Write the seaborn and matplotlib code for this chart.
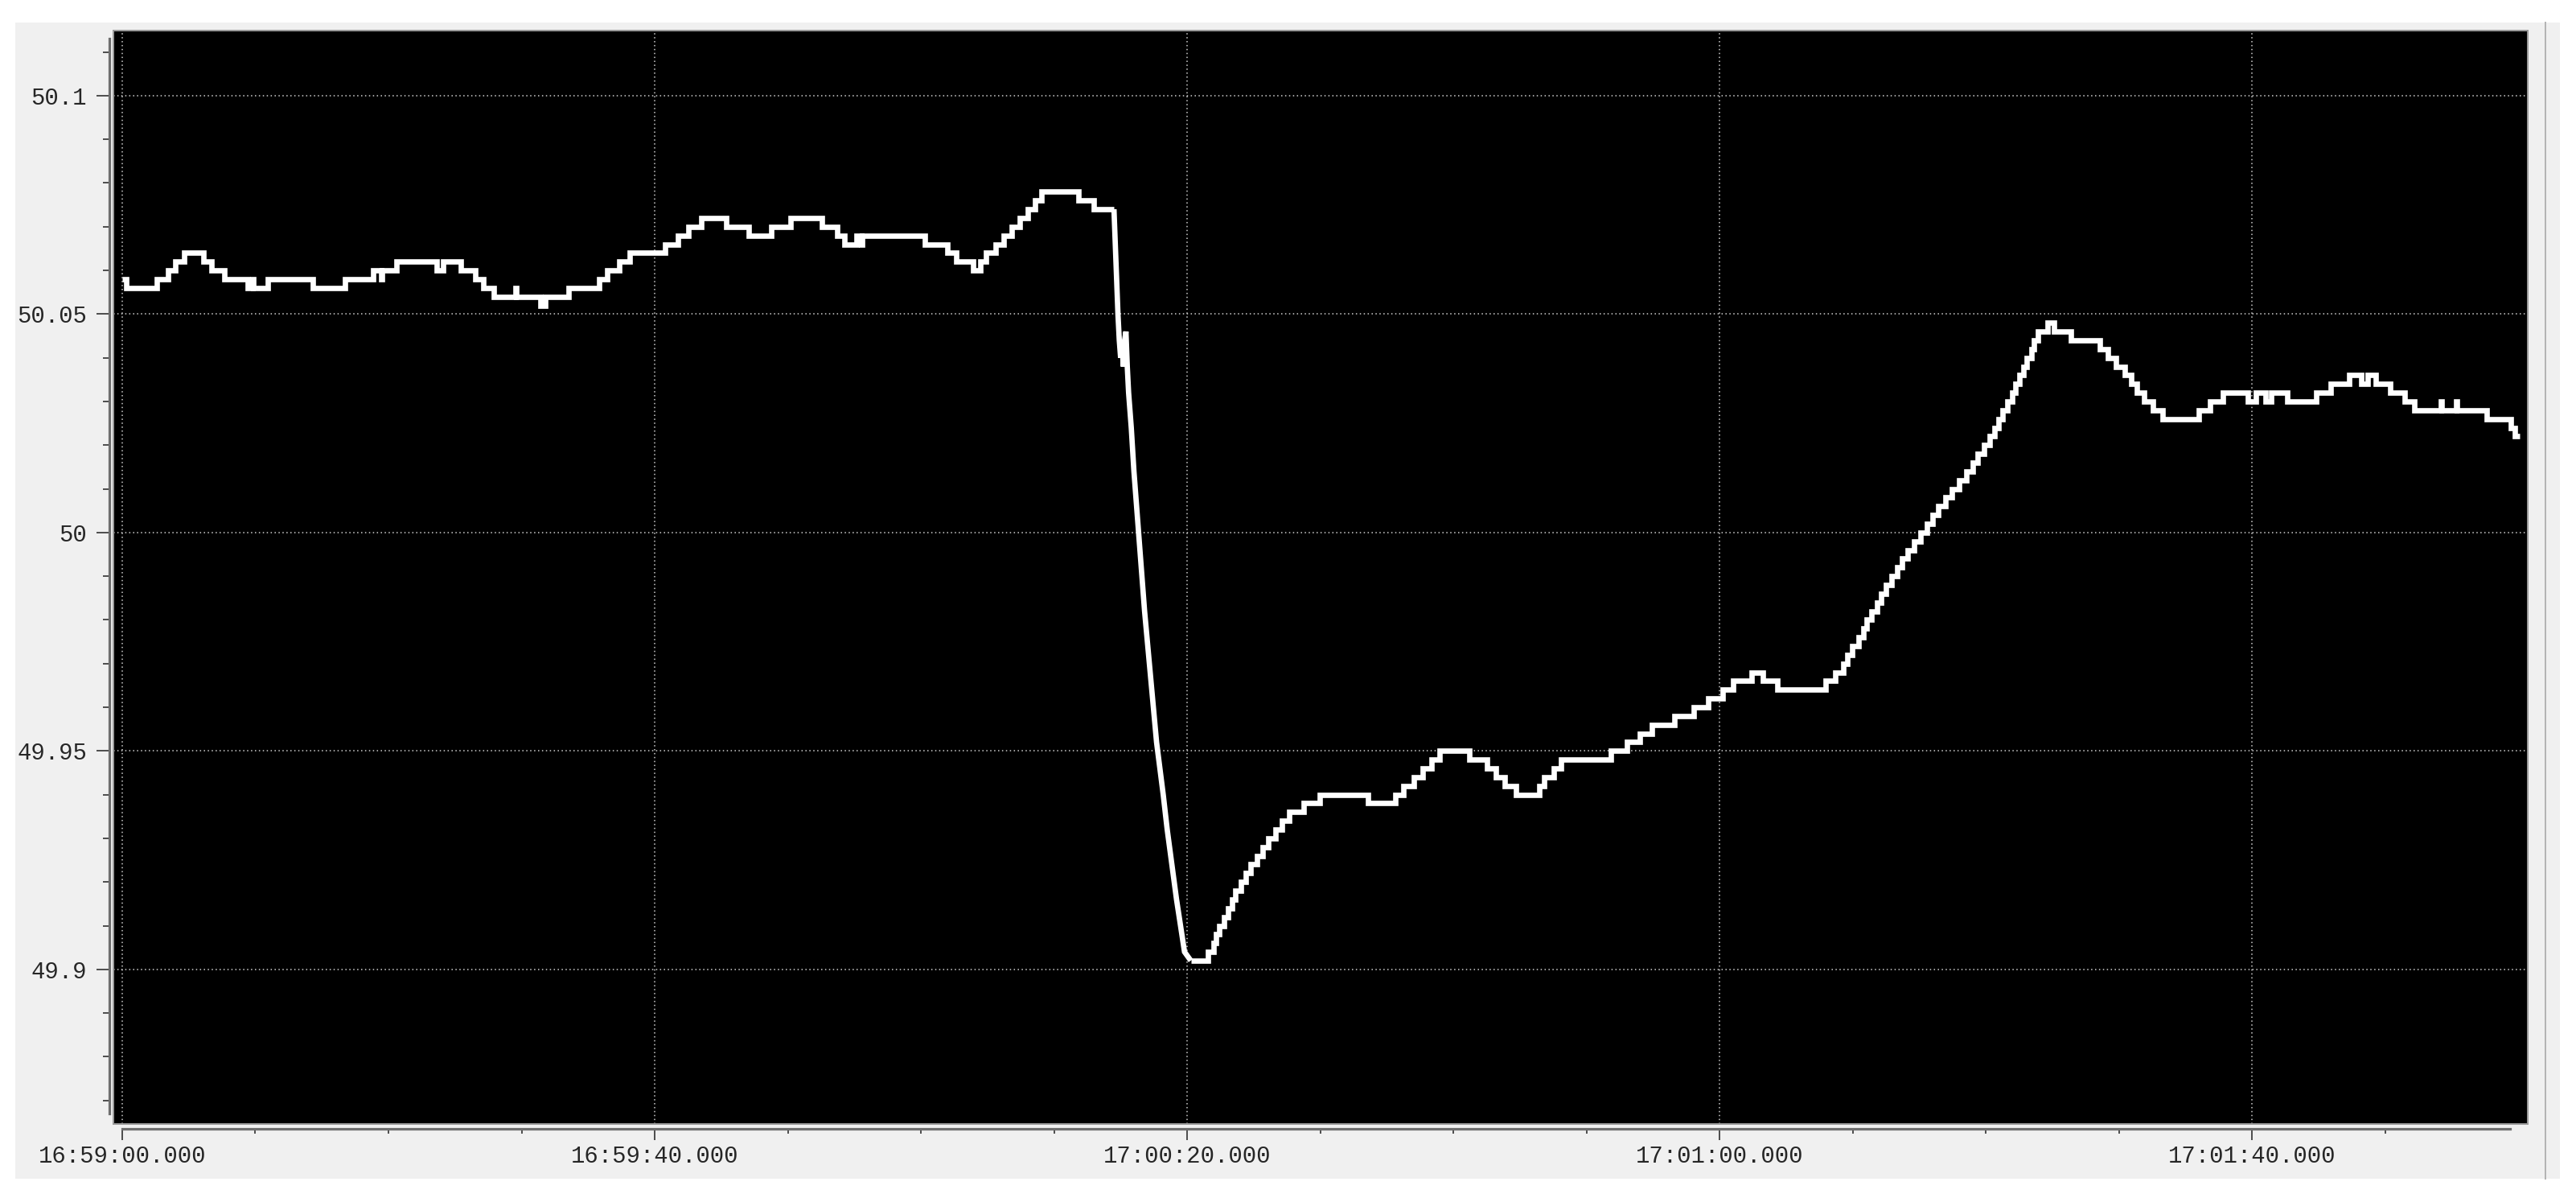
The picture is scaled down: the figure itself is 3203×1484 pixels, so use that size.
import numpy as np
import pandas as pd
import matplotlib
matplotlib.use("Agg")
import matplotlib.pyplot as plt
import seaborn as sns
from matplotlib.patches import Rectangle
from matplotlib.lines import Line2D
from matplotlib.ticker import MultipleLocator, FixedLocator

# ---------------- data (time in seconds after 16:59:00, frequency in Hz) ----------------
pre_t = [0.0, 0.3, 2.62, 3.46, 4.0, 4.65, 6.13, 6.73, 7.68, 9.43,
         9.79, 9.85, 10.93, 14.33, 16.71, 18.86, 19.46, 19.52, 20.59, 23.64,
         24.12, 25.43, 26.51, 27.11, 27.89, 29.57, 29.63, 31.4, 31.8, 33.56,
         35.83, 36.45, 37.36, 38.15, 40.77, 41.77, 42.55, 43.52, 45.36, 47.06,
         48.76, 50.21, 52.56, 53.74, 54.27, 55.18, 55.5, 55.56, 60.3, 62.0,
         62.65, 63.9, 64.45, 64.9, 65.6, 66.2, 66.8, 67.4, 68.0, 68.6,
         69.07, 71.82, 73.0, 74.5]
pre_f = [50.058, 50.056, 50.058, 50.060, 50.062, 50.064, 50.062, 50.060, 50.058, 50.056,
         50.058, 50.056, 50.058, 50.056, 50.058, 50.060, 50.058, 50.060, 50.062, 50.060,
         50.062, 50.060, 50.058, 50.056, 50.054, 50.056, 50.054, 50.052, 50.054, 50.056,
         50.058, 50.060, 50.062, 50.064, 50.066, 50.068, 50.070, 50.072, 50.070, 50.068,
         50.070, 50.072, 50.070, 50.068, 50.066, 50.068, 50.066, 50.068, 50.066, 50.064,
         50.062, 50.060, 50.062, 50.064, 50.066, 50.068, 50.070, 50.072, 50.074, 50.076,
         50.078, 50.076, 50.074, 50.074]

drop_t = [74.5, 74.6, 74.7, 74.8, 74.9, 75.0, 75.1, 75.2, 75.3, 75.4,
          75.5, 75.6, 75.8, 76.0, 76.3, 76.55, 76.8, 77.1, 77.4, 77.7,
          77.95, 78.2, 78.5, 78.85, 79.2, 79.5, 79.8, 80.27]
drop_f = [50.074, 50.066, 50.058, 50.050, 50.044, 50.040, 50.044, 50.038, 50.044, 50.046,
          50.038, 50.032, 50.024, 50.014, 50.002, 49.992, 49.982, 49.972, 49.962, 49.952,
          49.946, 49.940, 49.932, 49.924, 49.916, 49.910, 49.904, 49.902]

post_t = [80.27, 81.54, 81.97, 82.16, 82.43, 82.78, 83.05, 83.37, 83.64, 84.05,
          84.4, 84.77, 85.26, 85.66, 86.07, 86.61, 87.09, 87.69, 88.77, 89.98,
          93.57, 95.65, 96.27, 97.0, 97.72, 98.34, 98.96, 101.18, 102.52, 103.2,
          103.87, 104.68, 106.44, 106.84, 107.52, 108.06, 111.83, 113.05, 113.99, 114.93,
          116.6, 118.07, 119.13, 120.2, 121.04, 122.42, 123.26, 124.32, 127.93, 128.67,
          129.30, 129.62, 129.98, 130.41, 130.79, 131.04, 131.42, 131.81, 132.10, 132.48,
          132.91, 133.33, 133.71, 134.14, 134.60, 135.07, 135.56, 135.98, 136.41, 136.94,
          137.47, 138.0, 138.52, 139.01, 139.37, 139.86, 140.28, 140.64, 140.96, 141.28,
          141.6, 141.98, 142.23, 142.49, 142.83, 143.08, 143.4, 143.61, 143.93, 144.61,
          145.13, 146.38, 148.58, 149.18, 149.76, 150.44, 150.89, 151.31, 151.89, 152.52,
          153.27, 156.02, 156.85, 157.78, 159.66, 160.28, 161.03, 161.41, 162.61, 164.79,
          165.87, 167.3, 168.17, 168.67, 169.3, 170.38, 171.48, 172.18, 174.2, 174.26,
          175.3, 175.36, 177.64, 179.45, 179.75, 180.1]
post_f = [49.902, 49.904, 49.906, 49.908, 49.910, 49.912, 49.914, 49.916, 49.918, 49.920,
          49.922, 49.924, 49.926, 49.928, 49.930, 49.932, 49.934, 49.936, 49.938, 49.940,
          49.938, 49.940, 49.942, 49.944, 49.946, 49.948, 49.950, 49.948, 49.946, 49.944,
          49.942, 49.940, 49.942, 49.944, 49.946, 49.948, 49.950, 49.952, 49.954, 49.956,
          49.958, 49.960, 49.962, 49.964, 49.966, 49.968, 49.966, 49.964, 49.966, 49.968,
          49.970, 49.972, 49.974, 49.976, 49.978, 49.980, 49.982, 49.984, 49.986, 49.988,
          49.990, 49.992, 49.994, 49.996, 49.998, 50.000, 50.002, 50.004, 50.006, 50.008,
          50.010, 50.012, 50.014, 50.016, 50.018, 50.020, 50.022, 50.024, 50.026, 50.028,
          50.030, 50.032, 50.034, 50.036, 50.038, 50.040, 50.042, 50.044, 50.046, 50.048,
          50.046, 50.044, 50.042, 50.040, 50.038, 50.036, 50.034, 50.032, 50.030, 50.028,
          50.026, 50.028, 50.030, 50.032, 50.030, 50.032, 50.030, 50.032, 50.030, 50.032,
          50.034, 50.036, 50.034, 50.036, 50.034, 50.032, 50.030, 50.028, 50.030, 50.028,
          50.030, 50.028, 50.026, 50.024, 50.022, 50.022]

x_ticks = [0, 40, 80, 120, 160]
x_tick_labels = ["16:59:00.000", "16:59:40.000", "17:00:20.000", "17:01:00.000", "17:01:40.000"]
x_minor_ticks = [10, 20, 30, 50, 60, 70, 90, 100, 110, 130, 140, 150, 170]
y_ticks = [49.9, 49.95, 50.0, 50.05, 50.1]
y_tick_labels = ["49.9", "49.95", "50", "50.05", "50.1"]

# ---------------- figure / layout ----------------
W, H = 3203, 1484
PT = 0.72  # points per pixel at dpi 100
fig = plt.figure(figsize=(W / 100, H / 100), dpi=100)
fig.patch.set_facecolor("white")

# light grey window panel
fig.add_artist(Rectangle((19 / W, 1 - 1465 / H), (3183 - 19) / W, (1465 - 28) / H,
                         transform=fig.transFigure, facecolor="#f0f0f0", edgecolor="none", zorder=0))
fig.add_artist(Line2D([3165 / W, 3165 / W], [1 - 1465 / H, 1 - 28 / H], transform=fig.transFigure,
                      color="#b4b4b4", lw=2 * PT, zorder=1))

L, R, T, B = 141, 3143, 38, 1397
ax = fig.add_axes([L / W, 1 - B / H, (R - L) / W, (B - T) / H])
ax.set_facecolor("black")

df_pre = pd.DataFrame({"t": pre_t, "f": pre_f})
df_drop = pd.DataFrame({"t": drop_t, "f": drop_f})
df_post = pd.DataFrame({"t": post_t, "f": post_f})

line_kw = dict(color="white", linewidth=4.8, estimator=None, sort=False, legend=False,
               solid_joinstyle="miter", solid_capstyle="butt", zorder=3)
sns.lineplot(data=df_pre, x="t", y="f", ax=ax, drawstyle="steps-post", **line_kw)
sns.lineplot(data=df_drop, x="t", y="f", ax=ax, **line_kw)
sns.lineplot(data=df_post, x="t", y="f", ax=ax, drawstyle="steps-post", **line_kw)

ax.set_xlim(-0.66, 180.7)
ax.set_ylim(49.8646, 50.1149)
ax.set_xlabel("")
ax.set_ylabel("")

ax.set_xticks(x_ticks, x_tick_labels)
ax.xaxis.set_minor_locator(FixedLocator(x_minor_ticks))
ax.set_yticks(y_ticks, y_tick_labels)
ax.yaxis.set_minor_locator(MultipleLocator(0.01))

ax.grid(True, which="major", color="#cfcfcf", linestyle=(0, (1, 2.2)), linewidth=1.1)
ax.set_axisbelow(True)

# detached axis lines
for s in ["top", "right"]:
    ax.spines[s].set_visible(False)
ax.spines["left"].set_position(("outward", 5 * PT))
ax.spines["bottom"].set_position(("outward", 6 * PT))
ax.spines["left"].set_bounds(49.867, 50.113)
ax.spines["bottom"].set_bounds(0, 179.4)
for s in ["left", "bottom"]:
    ax.spines[s].set_color("#6e6e6e")
    ax.spines[s].set_linewidth(3.2 * PT)

# frame around black plotting area
ax.add_patch(Rectangle((0, 0), 1, 1, transform=ax.transAxes, fill=False,
                       edgecolor="#9a9a9a", linewidth=2 * PT, clip_on=False, zorder=6))

tick_font = dict(family=["Liberation Mono", "DejaVu Sans Mono"], size=20.8)
ax.tick_params(axis="y", which="major", direction="out", length=16 * PT, width=2 * PT,
               color="#505050", pad=12 * PT, labelcolor="#262626")
ax.tick_params(axis="y", which="minor", direction="out", length=8 * PT, width=2 * PT, color="#505050")
ax.tick_params(axis="x", which="major", direction="out", length=14 * PT, width=2 * PT,
               color="#505050", pad=6 * PT, labelcolor="#262626")
ax.tick_params(axis="x", which="minor", direction="out", length=6 * PT, width=2 * PT, color="#505050")
for lab in ax.get_xticklabels() + ax.get_yticklabels():
    lab.set_fontfamily(tick_font["family"])
    lab.set_fontsize(tick_font["size"])

fig.savefig("out.png", dpi=100, facecolor=fig.get_facecolor())
